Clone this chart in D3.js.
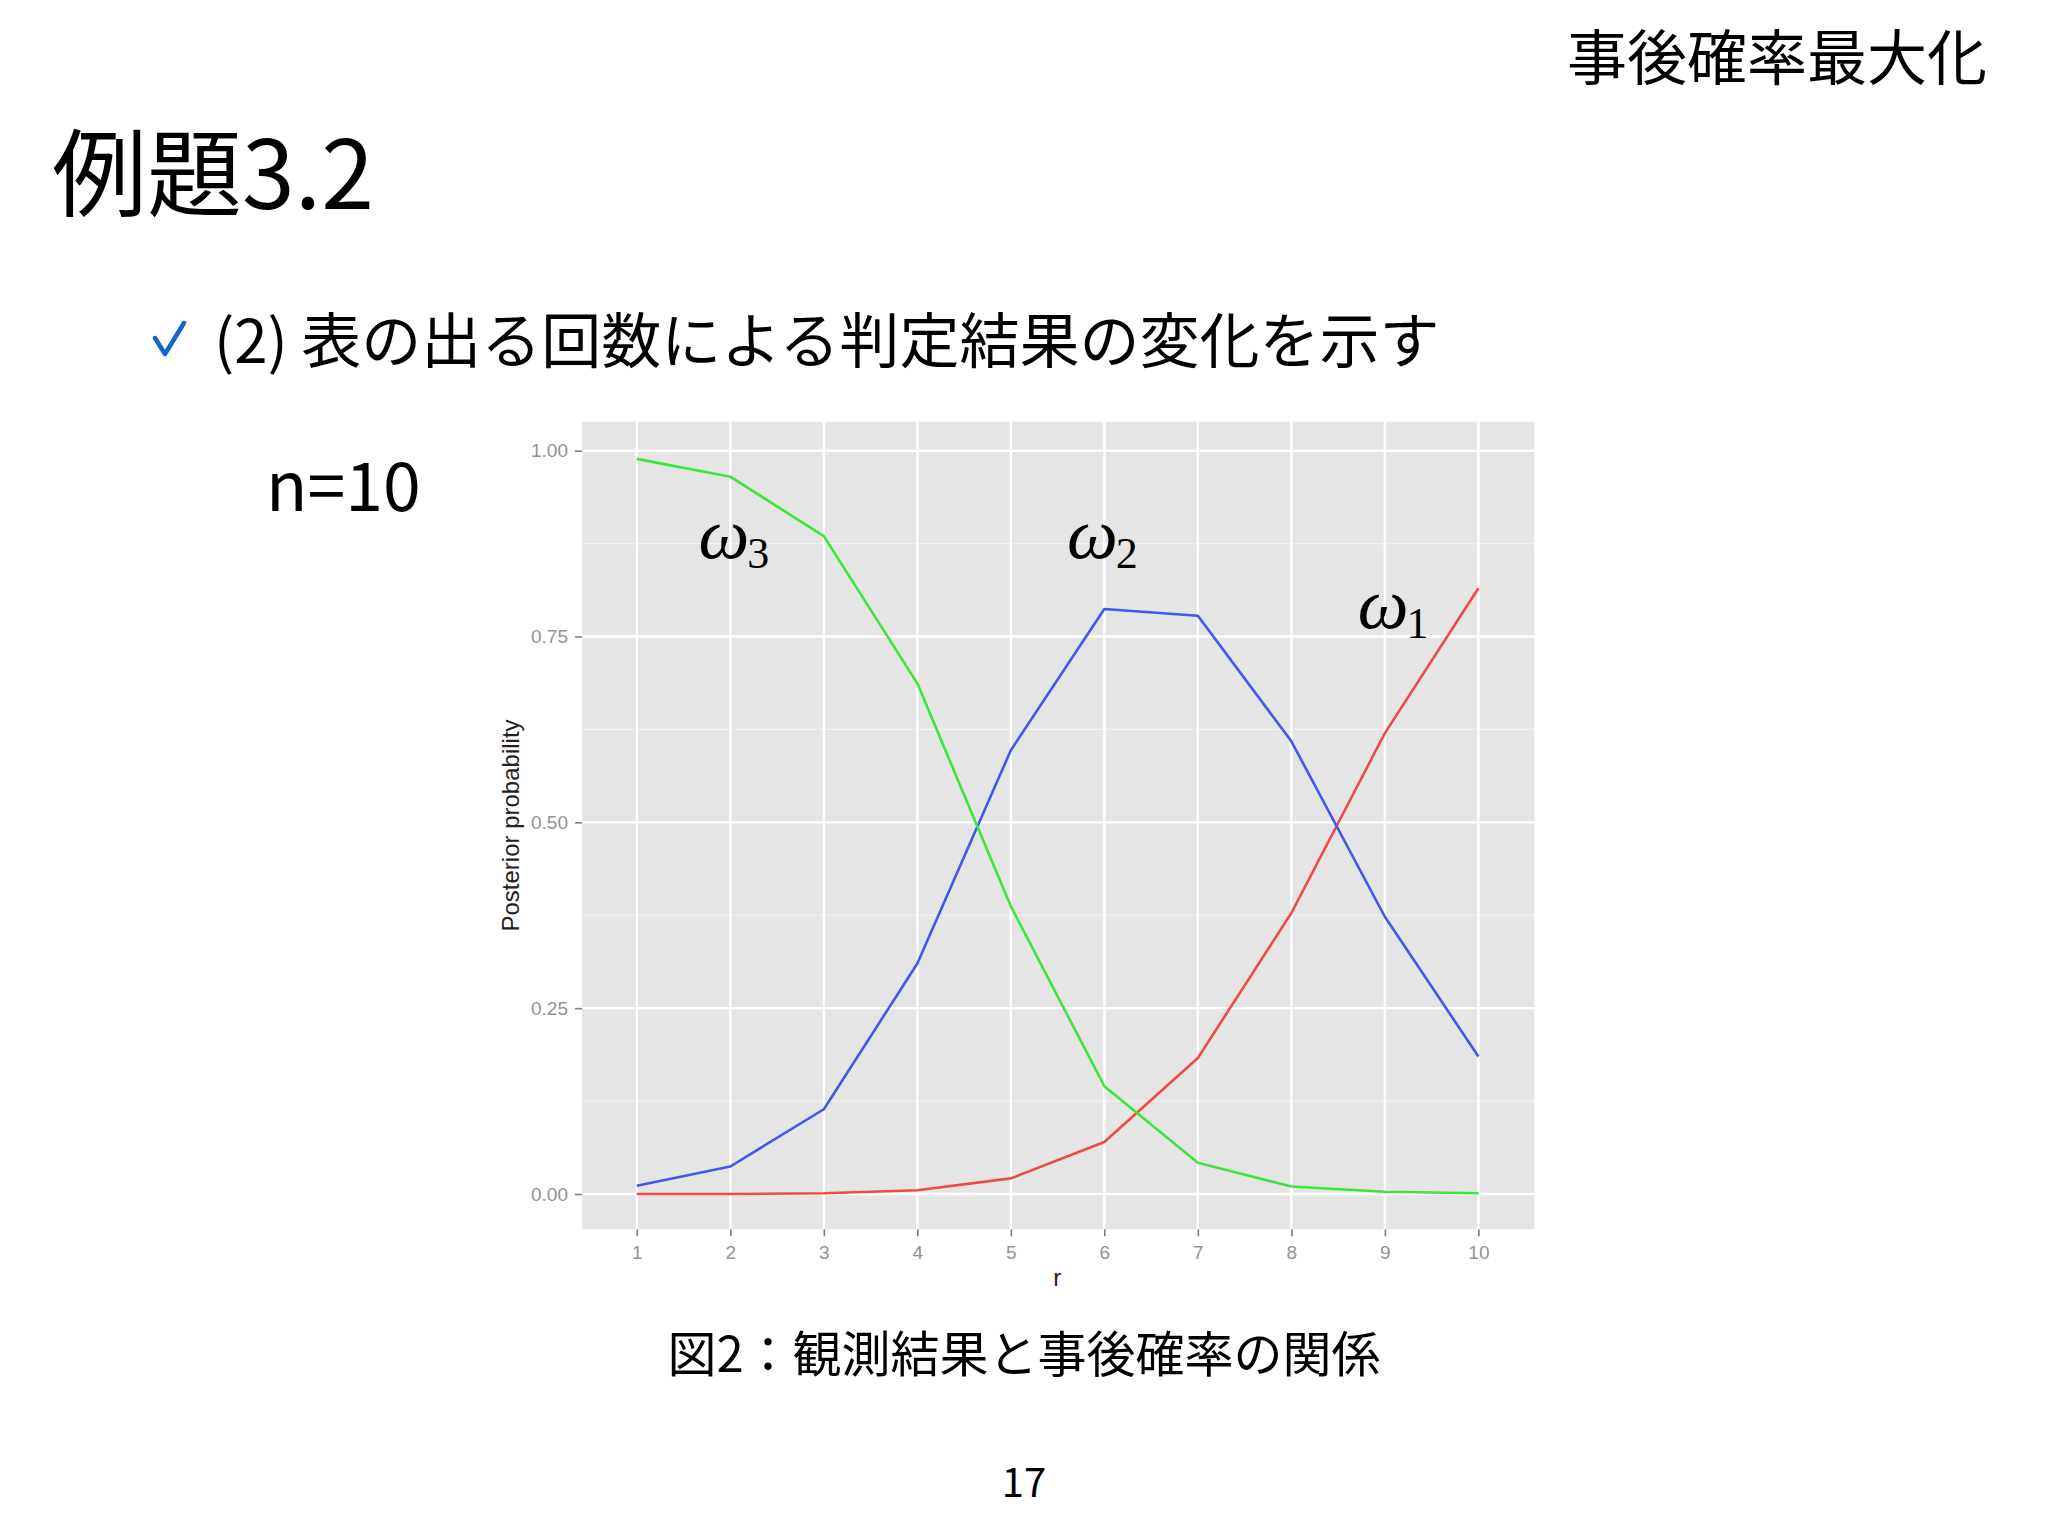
<!DOCTYPE html>
<html>
<head>
<meta charset="utf-8">
<script src="https://cdn.jsdelivr.net/npm/d3@7"></script>
<style>
    body { margin: 0; background: #fff; }
    svg { display: block; }
</style>
</head>
<body>
<div class="slide"></div>
<script>
// values
var rValues = [1, 2, 3, 4, 5, 6, 7, 8, 9, 10];
var omega1 = [0.000, 0.000, 0.001, 0.005, 0.021, 0.070, 0.183, 0.378, 0.620, 0.815];
var omega2 = [0.011, 0.037, 0.114, 0.310, 0.597, 0.787, 0.778, 0.609, 0.373, 0.185];
var omega3 = [0.989, 0.965, 0.885, 0.687, 0.387, 0.145, 0.042, 0.010, 0.003, 0.001];

var yTicks = [0, 0.25, 0.5, 0.75, 1.0];
var yTickLabels = ["0.00", "0.25", "0.50", "0.75", "1.00"];
var yMinorTicks = [0.125, 0.375, 0.625, 0.875];

var seriesNames = ["omega1", "omega2", "omega3"];
var seriesColors = ["#f04a46", "#4257ee", "#3de63d"];

// label text and where it sits (in data units)
var labelSubs = ["1", "2", "3"];
var labelR = [8.71, 5.60, 1.66];
var labelP = [0.761, 0.856, 0.856];

(function () {
    var width = 2048,
        height = 1536;

    // plot panel box
    var panel = { left: 582, right: 1534.5, top: 421.7, bottom: 1229.3 };

    var svg = d3.select('.slide').append('svg')
        .attr('width', width)
        .attr('height', height);

    svg.append('rect')
        .attr('width', width)
        .attr('height', height)
        .attr('fill', '#fff');

    var jp = '"Noto Sans CJK JP", "Noto Sans", sans-serif';

    // slide texts
    svg.append('text')
        .attr('x', 1987).attr('y', 80)
        .attr('text-anchor', 'end')
        .style('font-family', jp).style('font-size', '60px')
        .text('事後確率最大化');

    svg.append('text')
        .attr('x', 52).attr('y', 209)
        .style('font-family', jp).style('font-size', '95px')
        .text('例題3.2');

    svg.append('path')
        .attr('d', 'M155,338 L165,354 L184,323')
        .attr('fill', 'none')
        .attr('stroke', '#1565c8')
        .attr('stroke-width', 4.5)
        .attr('stroke-linecap', 'round')
        .attr('stroke-linejoin', 'round');

    svg.append('text')
        .attr('x', 214).attr('y', 363)
        .style('font-family', jp).style('font-size', '60px')
        .text('(2) 表の出る回数による判定結果の変化を示す');

    svg.append('text')
        .attr('x', 266).attr('y', 511)
        .style('font-family', jp).style('font-size', '68px')
        .text('n=10');

    svg.append('text')
        .attr('x', 1024).attr('y', 1372)
        .attr('text-anchor', 'middle')
        .style('font-family', jp).style('font-size', '49px')
        .text('図2：観測結果と事後確率の関係');

    svg.append('text')
        .attr('x', 1024).attr('y', 1497)
        .attr('text-anchor', 'middle')
        .style('font-family', jp).style('font-size', '40px')
        .text('17');

    // scales, with the same padding ggplot leaves round the data
    var x = d3.scaleLinear().domain([0.414, 10.6]).range([panel.left, panel.right]);
    var y = d3.scaleLinear().domain([-0.0475, 1.039]).range([panel.bottom, panel.top]);

    var plot = svg.append('g');

    plot.append('rect')
        .attr('x', panel.left)
        .attr('y', panel.top)
        .attr('width', panel.right - panel.left)
        .attr('height', panel.bottom - panel.top)
        .attr('fill', '#e5e5e5');

    // minor grid
    plot.selectAll('.minor').data(yMinorTicks).enter().append('line')
        .attr('class', 'minor')
        .attr('x1', panel.left).attr('x2', panel.right)
        .attr('y1', function (d) { return y(d); })
        .attr('y2', function (d) { return y(d); })
        .attr('stroke', '#f2f2f2')
        .attr('stroke-width', 1.2);

    // major grid
    plot.selectAll('.hgrid').data(yTicks).enter().append('line')
        .attr('class', 'hgrid')
        .attr('x1', panel.left).attr('x2', panel.right)
        .attr('y1', function (d) { return y(d); })
        .attr('y2', function (d) { return y(d); })
        .attr('stroke', '#fff')
        .attr('stroke-width', 2.4);

    plot.selectAll('.vgrid').data(rValues).enter().append('line')
        .attr('class', 'vgrid')
        .attr('y1', panel.top).attr('y2', panel.bottom)
        .attr('x1', function (d) { return x(d); })
        .attr('x2', function (d) { return x(d); })
        .attr('stroke', '#fff')
        .attr('stroke-width', 2.4);

    // axes
    var xAxis = d3.axisBottom(x).tickValues(rValues).tickSize(7).tickPadding(9);
    var yAxis = d3.axisLeft(y).tickValues(yTicks).tickSize(7).tickPadding(7)
        .tickFormat(function (d, i) { return yTickLabels[i]; });

    var gx = plot.append('g')
        .attr('transform', 'translate(0,' + panel.bottom + ')')
        .call(xAxis);
    var gy = plot.append('g')
        .attr('transform', 'translate(' + panel.left + ',0)')
        .call(yAxis);

    [gx, gy].forEach(function (g) {
        g.select('.domain').remove();
        g.selectAll('.tick line').attr('stroke', '#7f7f7f').attr('stroke-width', 1.6);
        g.selectAll('.tick text')
            .attr('fill', '#939393')
            .style('font-family', '"Liberation Sans", Arial, sans-serif')
            .style('font-size', '19px');
    });

    // axis titles
    plot.append('text')
        .attr('x', (panel.left + panel.right) / 2 - 1)
        .attr('y', 1286)
        .attr('text-anchor', 'middle')
        .attr('fill', '#222')
        .style('font-family', '"Liberation Sans", Arial, sans-serif')
        .style('font-size', '24px')
        .text('r');

    plot.append('text')
        .attr('transform', 'translate(519,' + ((panel.top + panel.bottom) / 2) + ') rotate(-90)')
        .attr('text-anchor', 'middle')
        .attr('fill', '#222')
        .style('font-family', '"Liberation Sans", Arial, sans-serif')
        .style('font-size', '24px')
        .text('Posterior probability');

    // lines
    var series = [omega1, omega2, omega3];
    var line = d3.line()
        .x(function (d, i) { return x(rValues[i]); })
        .y(function (d) { return y(d); });

    plot.selectAll('.series').data(series).enter().append('path')
        .attr('class', 'series')
        .attr('d', line)
        .attr('fill', 'none')
        .attr('stroke', function (d, i) { return seriesColors[i]; })
        .attr('stroke-width', 2.6)
        .attr('stroke-linejoin', 'round');

    // omega labels
    var labels = plot.selectAll('.omega').data(labelSubs).enter().append('text')
        .attr('class', 'omega')
        .attr('x', function (d, i) { return x(labelR[i]); })
        .attr('y', function (d, i) { return y(labelP[i]); })
        .style('font-family', '"Liberation Serif", "DejaVu Serif", serif');

    labels.append('tspan')
        .style('font-style', 'italic')
        .style('font-size', '72px')
        .text('ω');
    labels.append('tspan')
        .attr('dy', 10)
        .attr('dx', -2)
        .style('font-size', '44px')
        .text(function (d) { return d; });
}());
</script>
</body>
</html>
